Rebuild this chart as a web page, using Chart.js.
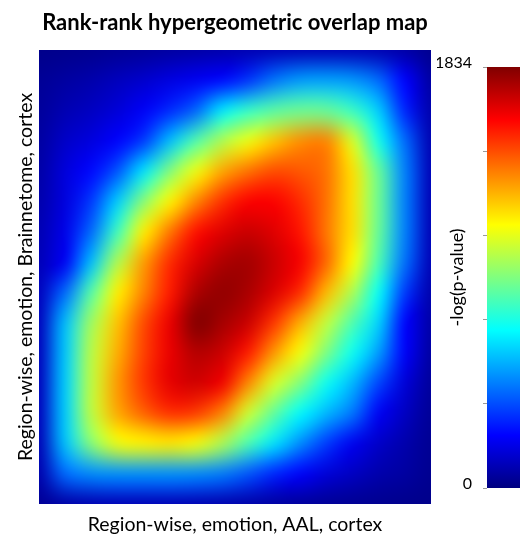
<!DOCTYPE html>
<html>
<head>
<meta charset="utf-8">
<script src="https://cdn.jsdelivr.net/npm/chart.js@4"></script>
<style>
  body { margin: 0; background: #fff; }
  #wrap { position: relative; width: 524px; height: 537px; }
  #wrap canvas { position: absolute; left: 0; top: 0; }
</style>
</head>
<body>
<div id="wrap">
  <canvas id="overlapMap" width="524" height="537"></canvas>
  <canvas id="colorBar" width="524" height="537"></canvas>
</div>
<script>
// -log(p-value) sampled on a 16 x 16 node grid (edges included), first row = top of the map
const overlapGrid = [
    [20, 25, 30, 40, 50, 60, 70, 80, 90, 100, 100, 100, 100, 90, 70, 30],
    [40, 60, 80, 110, 140, 175, 205, 240, 320, 440, 510, 520, 500, 420, 229, 60],
    [50, 90, 120, 160, 215, 300, 410, 650, 780, 850, 880, 870, 790, 600, 290, 80],
    [60, 130, 170, 225, 330, 570, 830, 1000, 1120, 1250, 1350, 1370, 1080, 720, 420, 90],
    [70, 165, 240, 380, 640, 920, 1120, 1300, 1400, 1470, 1450, 1400, 1200, 870, 460, 100],
    [80, 170, 330, 600, 930, 1160, 1360, 1520, 1610, 1610, 1530, 1400, 1200, 880, 460, 100],
    [90, 190, 420, 800, 1170, 1390, 1580, 1660, 1700, 1660, 1570, 1390, 1200, 870, 460, 100],
    [100, 210, 570, 1000, 1320, 1530, 1670, 1750, 1770, 1700, 1620, 1420, 1150, 820, 430, 100],
    [110, 420, 840, 1170, 1370, 1560, 1750, 1800, 1760, 1670, 1530, 1270, 1000, 700, 330, 80],
    [110, 570, 975, 1250, 1470, 1640, 1830, 1770, 1700, 1510, 1290, 1040, 830, 610, 229, 70],
    [110, 590, 1020, 1290, 1490, 1640, 1740, 1700, 1560, 1330, 1130, 910, 710, 510, 220, 60],
    [110, 600, 1030, 1330, 1510, 1650, 1690, 1630, 1360, 1080, 920, 710, 560, 350, 160, 50],
    [110, 600, 1030, 1300, 1430, 1520, 1500, 1370, 1060, 860, 680, 560, 440, 210, 120, 40],
    [100, 580, 930, 1120, 1160, 1180, 1130, 1000, 820, 640, 480, 330, 200, 130, 80, 35],
    [80, 420, 480, 490, 490, 490, 480, 450, 380, 290, 220, 160, 120, 80, 60, 30],
    [40, 70, 90, 100, 100, 100, 95, 85, 75, 60, 50, 40, 35, 30, 25, 20],
];

const colorMin = 0;
const colorMax = 1834;
const colorTicks = [0, 366.8, 733.6, 1100.4, 1467.2, 1834];

const chartTitle = 'Rank-rank hypergeometric overlap map';
const xTitle = 'Region-wise, emotion, AAL, cortex';
const yTitle = 'Region-wise, emotion, Brainnetome, cortex';
const barTitle = '-log(p-value)';

const FONT = 'Lato, "Open Sans", sans-serif';

// jet colormap, t in [0, 1]
function jet(t) {
    const c = v => Math.round(255 * Math.min(1, Math.max(0, v)));
    return [c(1.5 - Math.abs(4 * t - 3)), c(1.5 - Math.abs(4 * t - 2)), c(1.5 - Math.abs(4 * t - 1))];
}

const toUnit = v => (v - colorMin) / (colorMax - colorMin);

const rows = overlapGrid.length;
const cols = overlapGrid[0].length;

// One bitmap pixel per grid node, stretched so pixel centres sit on the nodes (smoothed)
const heatmapPlugin = {
    id: 'heatmap',
    beforeDatasetsDraw(chart) {
        const { ctx, chartArea, scales: { x, y } } = chart;

        const off = document.createElement('canvas');
        off.width = cols;
        off.height = rows;
        const octx = off.getContext('2d');
        const img = octx.createImageData(cols, rows);
        overlapGrid.forEach((row, j) => {
            row.forEach((v, i) => {
                const [r, g, b] = jet(toUnit(v));
                const k = (j * cols + i) * 4;
                img.data[k] = r;
                img.data[k + 1] = g;
                img.data[k + 2] = b;
                img.data[k + 3] = 255;
            });
        });
        octx.putImageData(img, 0, 0);

        const left = x.getPixelForValue(-0.5);
        const right = x.getPixelForValue(cols - 0.5);
        const top = y.getPixelForValue(rows - 0.5);
        const bottom = y.getPixelForValue(-0.5);

        ctx.save();
        ctx.beginPath();
        ctx.rect(chartArea.left, chartArea.top, chartArea.right - chartArea.left, chartArea.bottom - chartArea.top);
        ctx.clip();
        ctx.imageSmoothingEnabled = true;
        ctx.imageSmoothingQuality = 'high';
        ctx.drawImage(off, left, top, right - left, bottom - top);
        ctx.restore();
    },
};

// Fill the colour bar with the jet ramp along its value axis
const colorBarPlugin = {
    id: 'colorBarFill',
    beforeDatasetsDraw(chart) {
        const { ctx, chartArea, scales: { y } } = chart;
        const y0 = y.getPixelForValue(colorMin);
        const y1 = y.getPixelForValue(colorMax);
        const grad = ctx.createLinearGradient(0, y0, 0, y1);
        [0, 0.125, 0.375, 0.625, 0.875, 1].forEach(t => {
            grad.addColorStop(t, `rgb(${jet(t).join(',')})`);
        });
        ctx.save();
        ctx.fillStyle = grad;
        ctx.fillRect(chartArea.left, y1, chartArea.right - chartArea.left, y0 - y1);
        ctx.restore();
    },
};

new Chart(document.getElementById('overlapMap'), {
    type: 'scatter',
    data: { datasets: [] },
    options: {
        responsive: false,
        animation: false,
        layout: { padding: { left: 0, right: 93, top: 0, bottom: 0 } },
        plugins: {
            legend: { display: false },
            tooltip: { enabled: false },
            title: {
                display: true,
                text: chartTitle,
                fullSize: false,
                color: '#000',
                font: { family: FONT, size: 22, weight: 'bold' },
                padding: { top: 10, bottom: 13.6 },
            },
        },
        scales: {
            x: {
                min: 0,
                max: cols - 1,
                ticks: { display: false },
                grid: { display: false },
                border: { display: false },
                afterFit: scale => { scale.height = 33; },
                title: {
                    display: true,
                    text: xTitle,
                    color: '#000',
                    font: { family: FONT, size: 19.5 },
                    padding: { top: 0, bottom: 1 },
                },
            },
            y: {
                min: 0,
                max: rows - 1,
                ticks: { display: false },
                grid: { display: false },
                border: { display: false },
                afterFit: scale => { scale.width = 39; },
                title: {
                    display: true,
                    text: yTitle,
                    color: '#000',
                    font: { family: FONT, size: 19.5 },
                    padding: { top: 14, bottom: 0 },
                },
            },
        },
    },
    plugins: [heatmapPlugin],
});

new Chart(document.getElementById('colorBar'), {
    type: 'scatter',
    data: { datasets: [] },
    options: {
        responsive: false,
        animation: false,
        layout: { padding: { left: 437, right: 4, top: 67, bottom: 49 } },
        plugins: {
            legend: { display: false },
            tooltip: { enabled: false },
        },
        scales: {
            x: { display: false, min: 0, max: 1 },
            y: {
                position: 'left',
                min: colorMin,
                max: colorMax,
                afterBuildTicks: scale => { scale.ticks = colorTicks.map(v => ({ value: v })); },
                afterFit: scale => { scale.width = 50; },
                grid: { drawOnChartArea: false, tickLength: 4, color: '#9a9a9a' },
                border: { display: false },
                ticks: {
                    padding: 11,
                    labelOffset: -4,
                    color: '#000',
                    font: { family: FONT, size: 16 },
                    callback: (value, index, ticks) => (index === 0 || index === ticks.length - 1) ? value : '',
                },
                title: {
                    display: true,
                    text: barTitle,
                    color: '#000',
                    font: { family: FONT, size: 18 },
                    padding: { top: 9, bottom: 0 },
                },
            },
        },
    },
    plugins: [colorBarPlugin],
});
</script>
</body>
</html>
